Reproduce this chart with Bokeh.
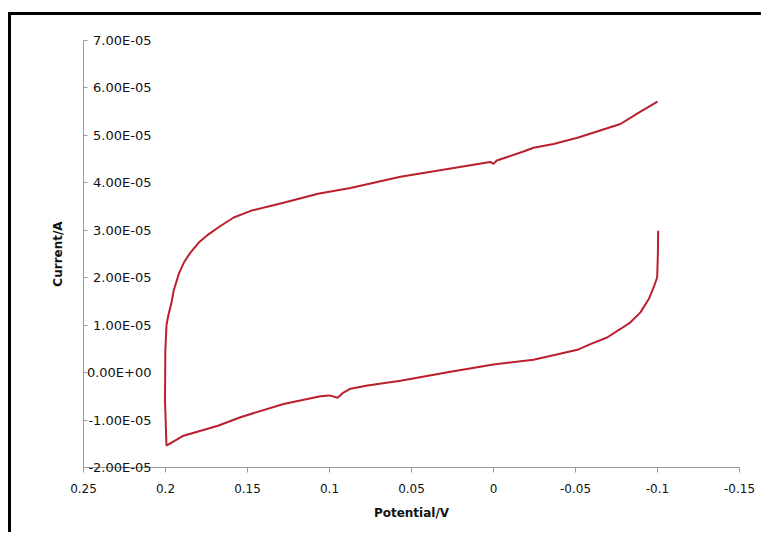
from bokeh.plotting import figure
from bokeh.models import Range1d, FixedTicker
from bokeh.embed import file_html
from bokeh.resources import INLINE

# Reverse scan (lower branch): from -0.1 V back to 0.2 V
lower_potential = [-0.1004, -0.1002, -0.0998, -0.0977, -0.0947, -0.0896, -0.0835, -0.0774,
                   -0.0693, -0.0591, -0.0512, -0.0244, 0.0, 0.0262, 0.0567, 0.0768,
                   0.0872, 0.0915, 0.0951, 0.1, 0.1055, 0.128, 0.1543, 0.168, 0.189, 0.1994]
lower_current = [2.99e-05, 2.46e-05, 2.01e-05, 1.80e-05, 1.55e-05, 1.27e-05, 1.06e-05, 0.92e-05,
                 0.74e-05, 0.60e-05, 0.48e-05, 0.27e-05, 0.17e-05, 0.02e-05, -0.17e-05, -0.27e-05,
                 -0.34e-05, -0.42e-05, -0.53e-05, -0.48e-05, -0.50e-05, -0.66e-05, -0.94e-05,
                 -1.12e-05, -1.33e-05, -1.54e-05]

# Forward scan (upper branch): from 0.2 V to -0.1 V
upper_potential = [0.1994, 0.2003, 0.2001, 0.1994, 0.1982, 0.1965, 0.195, 0.1919, 0.1888,
                   0.1848, 0.1797, 0.1736, 0.1665, 0.1584, 0.148, 0.128, 0.107, 0.0872,
                   0.0567, 0.002, 0.0, -0.002, -0.0183, -0.0244, -0.0366, -0.0512,
                   -0.0774, -0.0896, -0.1]
upper_current = [-1.54e-05, -0.59e-05, 0.46e-05, 1.0e-05, 1.22e-05,
                 1.45e-05, 1.73e-05, 2.08e-05, 2.32e-05,
                 2.53e-05, 2.74e-05, 2.92e-05, 3.09e-05, 3.27e-05, 3.41e-05, 3.58e-05, 3.77e-05, 3.89e-05,
                 4.13e-05, 4.44e-05, 4.40e-05, 4.47e-05, 4.66e-05, 4.74e-05, 4.82e-05, 4.95e-05,
                 5.24e-05, 5.50e-05, 5.71e-05]

x_ticks = [0.25, 0.2, 0.15, 0.1, 0.05, 0.0, -0.05, -0.1, -0.15]
x_labels = ["0.25", "0.2", "0.15", "0.1", "0.05", "0", "-0.05", "-0.1", "-0.15"]
y_ticks = [-2e-05, -1e-05, 0.0, 1e-05, 2e-05, 3e-05, 4e-05, 5e-05, 6e-05, 7e-05]
y_labels = ["-2.00E-05", "-1.00E-05", "0.00E+00", "1.00E-05", "2.00E-05", "3.00E-05",
            "4.00E-05", "5.00E-05", "6.00E-05", "7.00E-05"]

p = figure(width=753, height=520, output_backend="svg", toolbar_location=None,
           x_range=Range1d(0.25, -0.15), y_range=Range1d(-2e-05, 7e-05),
           min_border_left=72, min_border_right=25, min_border_top=25, min_border_bottom=68,
           x_axis_label="Potential/V", y_axis_label="Current/A")
p.styles = {"border-top": "3px solid black", "border-left": "3px solid black",
            "margin-top": "12px", "margin-left": "8px"}
p.outline_line_color = None
p.xgrid.visible = False
p.ygrid.visible = False

line_color = "#BA1F2E"
p.line(lower_potential, lower_current, line_color=line_color, line_width=2)
p.line(upper_potential, upper_current, line_color=line_color, line_width=2)

ax = p.xaxis[0]
ax.ticker = FixedTicker(ticks=x_ticks)
ax.major_label_overrides = {t: l for t, l in zip(x_ticks, x_labels)}
ax.axis_line_color = "#9A9A9A"
ax.major_tick_line_color = "#9A9A9A"
ax.major_tick_in = 0
ax.major_tick_out = 5
ax.minor_tick_line_color = None
ax.major_label_standoff = 11
ax.major_label_text_font = "DejaVu Sans"
ax.major_label_text_font_size = "12px"
ax.major_label_text_color = "#111111"
ax.axis_label_text_font = "DejaVu Sans"
ax.axis_label_text_font_style = "bold"
ax.axis_label_text_font_size = "12px"
ax.axis_label_text_color = "#111111"
ax.axis_label_standoff = 10

ay = p.yaxis[0]
ay.ticker = FixedTicker(ticks=y_ticks)
ay.major_label_overrides = {t: l for t, l in zip(y_ticks, y_labels)}
ay.axis_line_color = "#9A9A9A"
ay.major_tick_line_color = "#9A9A9A"
ay.major_tick_in = 4
ay.major_tick_out = 0
ay.minor_tick_line_color = None
ay.major_label_standoff = -68
ay.major_label_text_font = "DejaVu Sans"
ay.major_label_text_font_size = "13px"
ay.major_label_text_color = "#111111"
ay.axis_label_text_font = "DejaVu Sans"
ay.axis_label_text_font_style = "bold"
ay.axis_label_text_font_size = "12px"
ay.axis_label_text_color = "#111111"
ay.axis_label_standoff = 19

open("out.html", "w").write(file_html(p, INLINE))
